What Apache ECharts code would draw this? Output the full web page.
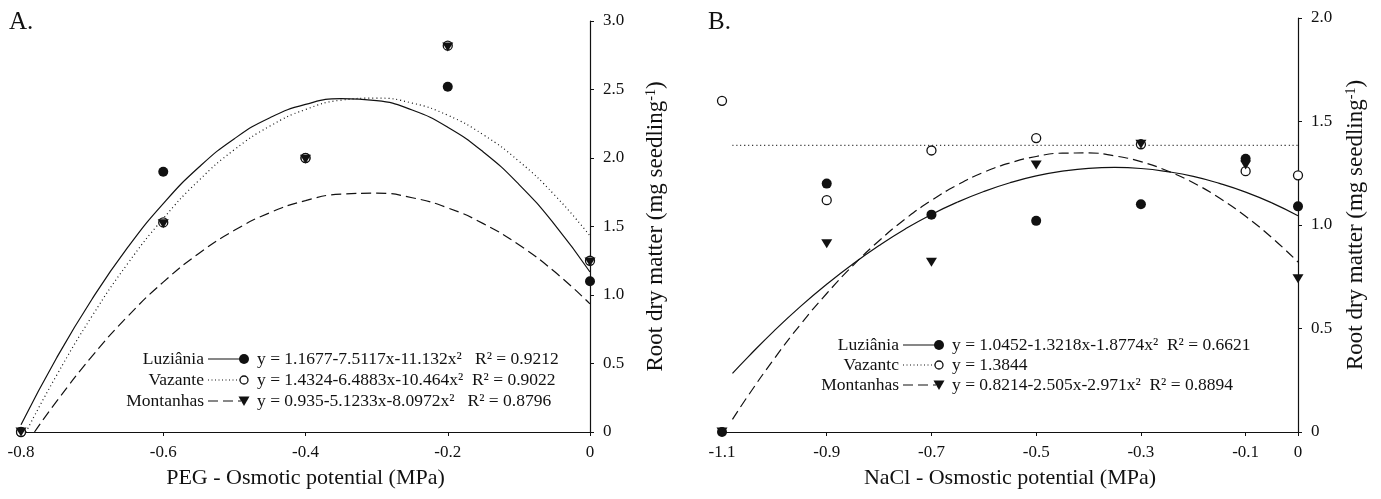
<!DOCTYPE html>
<html>
<head>
<meta charset="utf-8">
<script src="https://cdn.jsdelivr.net/npm/echarts@6/dist/echarts.min.js"></script>
<style>
html,body{margin:0;padding:0;background:#fff;}
#c{width:1381px;height:499px;}
</style>
</head>
<body>
<div id="c"></div>
<script>
// ---------- Data ----------
// Panel A (PEG)
const xA = [-0.8, -0.6, -0.4, -0.2, 0];
const luzA = [0, 1.90, 2.00, 2.52, 1.10];
const vazA = [0, 1.53, 2.00, 2.82, 1.25];
const monA = [0, 1.52, 1.99, 2.81, 1.24];

// Fitted curves
const fitLuzAx = [-0.80,-0.75,-0.70,-0.65,-0.60,-0.55,-0.50,-0.45,-0.40,-0.35,-0.30,-0.25,-0.20,-0.15,-0.10,-0.05,0];
const fitLuzAy = [0.053,0.540,0.971,1.347,1.667,1.932,2.141,2.294,2.391,2.433,2.419,2.350,2.225,2.044,1.808,1.516,1.168];
const fitVazAx = [-0.793,-0.75,-0.70,-0.65,-0.60,-0.55,-0.50,-0.45,-0.40,-0.35,-0.30,-0.25,-0.20,-0.15,-0.10,-0.05,0];
const fitVazAy = [0,0.413,0.847,1.229,1.558,1.836,2.061,2.233,2.354,2.422,2.437,2.401,2.312,2.170,1.977,1.731,1.432];
const fitMonAx = [-0.781,-0.75,-0.70,-0.65,-0.60,-0.55,-0.50,-0.45,-0.40,-0.35,-0.30,-0.25,-0.20,-0.15,-0.10,-0.05,0];
const fitMonAy = [0,0.223,0.554,0.844,1.094,1.303,1.472,1.601,1.689,1.736,1.743,1.710,1.636,1.521,1.366,1.171,0.935];

// Panel B (NaCl)
const xB = [-1.1, -0.9, -0.7, -0.5, -0.3, -0.1, 0];
const luzB = [0, 1.20, 1.05, 1.02, 1.10, 1.32, 1.09];
const vazB = [1.60, 1.12, 1.36, 1.42, 1.39, 1.26, 1.24];
const monB = [0, 0.91, 0.82, 1.29, 1.39, 1.29, 0.74];

const fitBx = [-1.08,-1.05,-1.00,-0.95,-0.90,-0.85,-0.80,-0.75,-0.70,-0.65,-0.60,-0.55,-0.50,-0.45,-0.40,-0.35,-0.30,-0.25,-0.20,-0.15,-0.10,-0.05,0];
const fitLuzBy = [0.283,0.363,0.490,0.607,0.714,0.812,0.901,0.981,1.051,1.111,1.162,1.204,1.237,1.260,1.274,1.278,1.273,1.258,1.235,1.201,1.159,1.107,1.045];
const fitMonBy = [0.061,0.176,0.355,0.520,0.669,0.804,0.924,1.029,1.119,1.194,1.255,1.300,1.331,1.347,1.348,1.334,1.306,1.262,1.204,1.130,1.042,0.939,0.821];
const fitVazBx = [-1.08, 0];
const fitVazBy = [1.3844, 1.3844];

const seriesNames = ['Luziânia', 'Vazante', 'Montanhas'];
const eqA = ['y = 1.1677-7.5117x-11.132x²   R² = 0.9212',
             'y = 1.4324-6.4883x-10.464x²  R² = 0.9022',
             'y = 0.935-5.1233x-8.0972x²   R² = 0.8796'];
const namesB = ['Luziânia', 'Vazantc', 'Montanhas'];
const eqB = ['y = 1.0452-1.3218x-1.8774x²  R² = 0.6621',
             'y = 1.3844',
             'y = 0.8214-2.505x-2.971x²  R² = 0.8894'];

// ---------- Helpers ----------
const FONT = 'Liberation Serif, Times New Roman, serif';
const INK = '#111';
const zip = (xs, ys) => xs.map((x, i) => [x, ys[i]]);
const fmt = v => (Math.abs(v) < 1e-9 ? '0' : (Math.round(v * 10) / 10).toFixed(1));

function xAxisCfg(idx, min, max, name) {
  return {
    type: 'value', gridIndex: idx, min: min, max: max, interval: 0.2,
    name: name, nameLocation: 'middle', nameGap: 35,
    nameTextStyle: { fontFamily: FONT, fontSize: 22, color: INK },
    axisLine: { show: true, onZero: false, lineStyle: { color: INK, width: 1.2 } },
    axisTick: { show: true, inside: false, length: 4, lineStyle: { color: INK } },
    axisLabel: { fontFamily: FONT, fontSize: 17, color: INK, margin: 12, formatter: fmt },
    splitLine: { show: false }
  };
}
function yAxisCfg(idx, max, gap) {
  return {
    type: 'value', gridIndex: idx, position: 'right', min: 0, max: max, interval: 0.5,
    name: 'Root dry matter (mg seedling{s|-1})', nameLocation: 'middle', nameGap: gap, nameRotate: 90,
    nameTextStyle: { fontFamily: FONT, fontSize: 23, color: INK,
      rich: { s: { fontFamily: FONT, fontSize: 14, color: INK, verticalAlign: 'top' } } },
    axisLine: { show: true, onZero: false, lineStyle: { color: INK, width: 1.2 } },
    axisTick: { show: true, inside: false, length: 4, lineStyle: { color: INK } },
    axisLabel: { fontFamily: FONT, fontSize: 17, color: INK, margin: 13, formatter: fmt },
    splitLine: { show: false }
  };
}
function curve(idx, data, type) {
  return {
    type: 'line', xAxisIndex: idx, yAxisIndex: idx, data: data, smooth: true,
    showSymbol: false, silent: true, z: 2,
    lineStyle: { color: INK, width: 1.2, type: type }
  };
}
function pts(idx, data, kind) {
  const base = { type: 'scatter', xAxisIndex: idx, yAxisIndex: idx, data: data, z: 5 };
  if (kind === 0) return Object.assign(base, { symbol: 'circle', symbolSize: 10, itemStyle: { color: INK, opacity: 1 } });
  if (kind === 1) return Object.assign(base, { symbol: 'circle', symbolSize: 9, z: 6, itemStyle: { color: '#fff', borderColor: INK, borderWidth: 1.3, opacity: 1 } });
  return Object.assign(base, { symbol: 'triangle', symbolRotate: 180, symbolSize: [11, 9], z: 7, itemStyle: { color: INK, opacity: 1 } });
}

// Legend drawn as text + sample line + marker
function legendBlock(rightX, ys, names, eqs) {
  const els = [];
  const lineTypes = ['solid', [1, 2.5], [10, 5]];
  ys.forEach((y, i) => {
    els.push({ type: 'text', x: rightX, y: y, style: { text: names[i], fontFamily: FONT, fontSize: 17.5, fill: INK, align: 'right', verticalAlign: 'middle' } });
    els.push({ type: 'line', shape: { x1: rightX + 4, y1: y, x2: rightX + 37, y2: y }, style: { stroke: INK, lineWidth: 1.2, lineDash: lineTypes[i] === 'solid' ? null : lineTypes[i] } });
    const mx = rightX + 40;
    if (i === 0) els.push({ type: 'circle', shape: { cx: mx, cy: y, r: 5 }, style: { fill: INK } });
    if (i === 1) els.push({ type: 'circle', shape: { cx: mx, cy: y, r: 4 }, style: { fill: '#fff', stroke: INK, lineWidth: 1.3 } });
    if (i === 2) els.push({ type: 'polygon', shape: { points: [[mx - 5.5, y - 4.5], [mx + 5.5, y - 4.5], [mx, y + 5]] }, style: { fill: INK } });
    els.push({ type: 'text', x: rightX + 53, y: y, style: { text: eqs[i], fontFamily: FONT, fontSize: 17.5, fill: INK, align: 'left', verticalAlign: 'middle' } });
  });
  return els;
}

const chart = echarts.init(document.getElementById('c'), null, { renderer: 'canvas' });
const option = {
  animation: false,
  backgroundColor: '#fff',
  grid: [
    { left: 21, top: 21, width: 569, height: 411 },
    { left: 722, top: 18, width: 576, height: 414 }
  ],
  xAxis: [
    xAxisCfg(0, -0.8, 0, 'PEG - Osmotic potential (MPa)'),
    xAxisCfg(1, -1.1, 0, 'NaCl - Osmostic potential (MPa)')
  ],
  yAxis: [
    yAxisCfg(0, 3.0, 54),
    yAxisCfg(1, 2.0, 46)
  ],
  series: [
    curve(0, zip(fitLuzAx, fitLuzAy), 'solid'),
    curve(0, zip(fitVazAx, fitVazAy), [1, 3]),
    curve(0, zip(fitMonAx, fitMonAy), [10, 5]),
    pts(0, zip(xA, luzA), 0),
    pts(0, zip(xA, vazA), 1),
    pts(0, zip(xA, monA), 2),
    curve(1, zip(fitBx, fitLuzBy), 'solid'),
    curve(1, zip(fitVazBx, fitVazBy), [1, 3]),
    curve(1, zip(fitBx, fitMonBy), [10, 5]),
    pts(1, zip(xB, luzB), 0),
    pts(1, zip(xB, vazB), 1),
    pts(1, zip(xB, monB), 2)
  ],
  graphic: [
    { type: 'text', left: 9, top: 10, style: { text: 'A.', fontFamily: FONT, fontSize: 25, fill: INK } },
    { type: 'text', left: 708, top: 10, style: { text: 'B.', fontFamily: FONT, fontSize: 25, fill: INK } }
  ].concat(legendBlock(204, [359, 380, 401], seriesNames, eqA))
   .concat(legendBlock(899, [345, 365, 385], namesB, eqB))
};
chart.setOption(option);
</script>
</body>
</html>
